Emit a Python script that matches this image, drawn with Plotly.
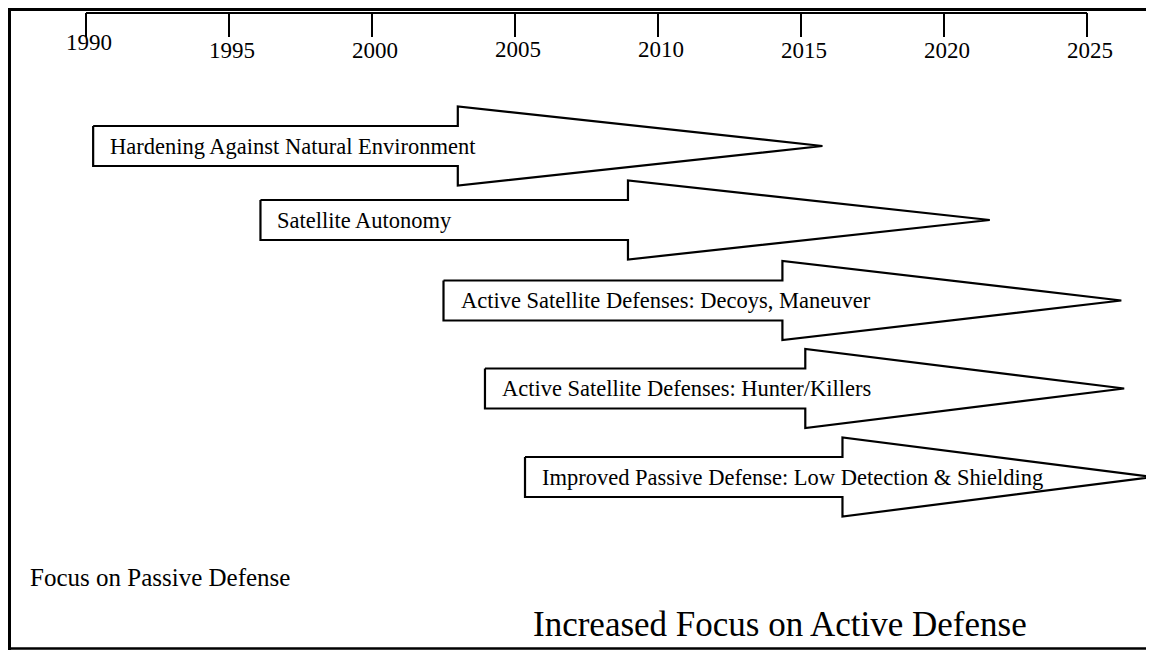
import plotly.graph_objects as go

# ---- data ----
tick_years = [1990, 1995, 2000, 2005, 2010, 2015, 2020, 2025]
tick_labels = ["1990", "1995", "2000", "2005", "2010", "2015", "2020", "2025"]
arrow_labels = [
    "Hardening Against Natural Environment",
    "Satellite Autonomy",
    "Active Satellite Defenses: Decoys, Maneuver",
    "Active Satellite Defenses: Hunter/Killers",
    "Improved Passive Defense: Low Detection & Shielding",
]
arrow_start = [1990.25, 1996.1, 2002.5, 2003.95, 2005.35]
arrow_head = [2003.0, 2008.95, 2014.35, 2015.15, 2016.45]
arrow_end = [2015.75, 2021.6, 2026.2, 2026.3, 2027.3]

# ---- layout constants ----
# the page has an 8px body margin: the figure is sized to avoid scrollbars and
# the axes are set so that y values / year positions land on the intended page pixel.
PAGE_W, PAGE_H, OFF = 1154, 658, 8
W, H = PAGE_W - OFF, PAGE_H - 2 * OFF
row_y = [146, 220, 300.5, 388.5, 477]
body_half = 20
head_half = 39.5
label_y = [42, 50, 50, 49, 49, 50, 50, 50]
tick_top, tick_bot = 13, 37
px_per_year = 28.6
x0 = 1990 - (86 - OFF) / px_per_year
x1 = x0 + W / px_per_year
FONT = "Liberation Serif, Times New Roman, serif"


def px(xp):
    return (xp - OFF) / W


def py(yp):
    return 1 - (yp - OFF) / H


fig = go.Figure()

# timeline line and ticks
fig.add_trace(go.Scatter(x=[tick_years[0], tick_years[-1]], y=[tick_top, tick_top], mode="lines",
                         line=dict(color="black", width=2), hoverinfo="skip", showlegend=False,
                         cliponaxis=False))
tx, ty = [], []
for yr in tick_years:
    tx += [yr, yr, None]
    ty += [tick_top, tick_bot, None]
fig.add_trace(go.Scatter(x=tx, y=ty, mode="lines", line=dict(color="black", width=2),
                         hoverinfo="skip", showlegend=False, cliponaxis=False))

for yr, lab, ly in zip(tick_years, tick_labels, label_y):
    fig.add_annotation(x=yr, y=ly, text=lab, showarrow=False, xanchor="center", yanchor="middle",
                       xshift=3, font=dict(family=FONT, size=23, color="black"))

# block arrows
for lab, s, h, e, yc in zip(arrow_labels, arrow_start, arrow_head, arrow_end, row_y):
    xs = [s, h, h, e, h, h, s, s]
    ys = [yc - body_half, yc - body_half, yc - head_half, yc, yc + head_half,
          yc + body_half, yc + body_half, yc - body_half]
    fig.add_trace(go.Scatter(x=xs, y=ys, mode="lines", fill="toself", fillcolor="white",
                             line=dict(color="black", width=2.2), hoverinfo="skip",
                             showlegend=False, cliponaxis=False))
    fig.add_annotation(x=s, y=yc, text=lab, showarrow=False, xanchor="left", yanchor="middle",
                       xshift=15, font=dict(family=FONT, size=22.5, color="black"))

# bottom captions
fig.add_annotation(x=px(28), y=py(577), xref="paper", yref="paper", text="Focus on Passive Defense",
                   showarrow=False, xanchor="left", yanchor="middle",
                   font=dict(family=FONT, size=25, color="black"))
fig.add_annotation(x=px(531), y=py(624), xref="paper", yref="paper",
                   text="Increased Focus on Active Defense",
                   showarrow=False, xanchor="left", yanchor="middle",
                   font=dict(family=FONT, size=35, color="black"))

# frame: left, top and bottom edges (no right edge)
frame = dict(color="black", width=3)
fig.add_shape(type="line", xref="paper", yref="paper", x0=1.5 / W, x1=1.5 / W, y0=0, y1=1,
              line=frame, layer="below")
fig.add_shape(type="line", xref="paper", yref="paper", x0=0, x1=1, y0=1 - 1.5 / H, y1=1 - 1.5 / H,
              line=frame, layer="below")
fig.add_shape(type="line", xref="paper", yref="paper", x0=0, x1=1, y0=1.5 / H, y1=1.5 / H,
              line=dict(color="black", width=2.5), layer="below")

fig.update_layout(
    width=W, height=H, margin=dict(l=0, r=0, t=0, b=0),
    paper_bgcolor="white", plot_bgcolor="white",
    xaxis=dict(range=[x0, x1], visible=False, fixedrange=True),
    yaxis=dict(range=[OFF + H, OFF], visible=False, fixedrange=True),
    showlegend=False,
)

fig.write_html("out.html")
